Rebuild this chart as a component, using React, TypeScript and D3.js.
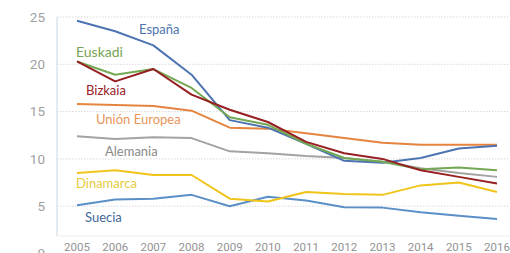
import React from "react"
import * as d3 from "d3"

const years = ["2005","2006","2007","2008","2009","2010","2011","2012","2013","2014","2015","2016"]
const yTicks = [0, 5, 10, 15, 20, 25]

const espana = [24.6, 23.5, 22.0, 18.9, 14.1, 13.3, 11.6, 9.8, 9.6, 10.1, 11.1, 11.4]
const euskadi = [20.3, 18.9, 19.5, 17.5, 14.4, 13.6, 11.6, 10.1, 9.7, 8.9, 9.1, 8.8]
const bizkaia = [20.3, 18.2, 19.5, 16.8, 15.2, 13.9, 11.8, 10.6, 10.0, 8.8, 8.1, 7.4]
const unionEuropea = [15.8, 15.7, 15.6, 15.1, 13.3, 13.2, 12.7, 12.2, 11.7, 11.5, 11.5, 11.5]
const alemania = [12.4, 12.1, 12.3, 12.2, 10.8, 10.6, 10.3, 10.1, 9.7, 9.0, 8.5, 8.1]
const dinamarca = [8.5, 8.8, 8.3, 8.3, 5.8, 5.5, 6.5, 6.3, 6.2, 7.2, 7.5, 6.5]
const suecia = [5.1, 5.7, 5.8, 6.2, 5.0, 6.0, 5.6, 4.9, 4.85, 4.35, 4.0, 3.65]

const series = [
  { name: "Suecia", values: suecia, color: "#5b8fc7", label: "#3f6797", lx: 85, ly: 217, fs: 13 },
  { name: "Dinamarca", values: dinamarca, color: "#f0c419", label: "#e6cb3c", lx: 76, ly: 183, fs: 13 },
  { name: "Alemania", values: alemania, color: "#a3a3a3", label: "#8a8a8a", lx: 105, ly: 151, fs: 13 },
  { name: "Unión Europea", values: unionEuropea, color: "#e4843f", label: "#e8955a", lx: 96, ly: 119, fs: 13 },
  { name: "España", values: espana, color: "#4d74b2", label: "#4d74b0", lx: 139, ly: 29, fs: 13 },
  { name: "Euskadi", values: euskadi, color: "#74a852", label: "#75a553", lx: 76, ly: 52, fs: 14 },
  { name: "Bizkaia", values: bizkaia, color: "#961f22", label: "#982226", lx: 86, ly: 90, fs: 13 },
]

export default function App() {
  const width = 510, height = 253
  const x = d3.scalePoint().domain(years).range([77, 497])
  const y = d3.scaleLinear().domain([0, 25]).range([253.5, 17])
  const line = d3.line<number>()
    .x((_, i) => x(years[i]) as number)
    .y(d => y(d))

  return (
    <svg width={width} height={height}
      style={{ position: "absolute", left: 0, top: 0, background: "#fff" }}>
      {/* grid */}
      {yTicks.filter(t => t > 0).map(t => (
        <line key={t} x1={57} x2={width} y1={y(t)} y2={y(t)}
          stroke="#d9d9d9" strokeWidth={1} strokeDasharray="1.5,1.5" />
      ))}
      <line x1={57} x2={width} y1={236} y2={236} stroke="#ececec" strokeWidth={1} />
      <line x1={57} x2={57} y1={y(25)} y2={236} stroke="#c9d6e3" strokeWidth={1} />

      {/* y labels */}
      {yTicks.map(t => (
        <text key={t} x={45} y={y(t)} dy="0.35em" textAnchor="end"
          fontFamily="Roboto, sans-serif" fontSize={13.5} fill="#a0a0a0">{t}</text>
      ))}
      {/* x labels */}
      {years.map(yr => (
        <text key={yr} x={x(yr)} y={251} textAnchor="middle"
          fontFamily="Roboto, sans-serif" fontSize={11.5} fill="#939393">{yr}</text>
      ))}

      {series.map(s => (
        <path key={s.name} d={line(s.values) as string} fill="none"
          stroke={s.color} strokeWidth={2} strokeLinejoin="round" />
      ))}
      {series.map(s => (
        <text key={s.name + "l"} x={s.lx} y={s.ly} dy="0.35em"
          fontFamily="Lato, sans-serif" fontSize={s.fs} fill={s.label}>{s.name}</text>
      ))}
    </svg>
  )
}
